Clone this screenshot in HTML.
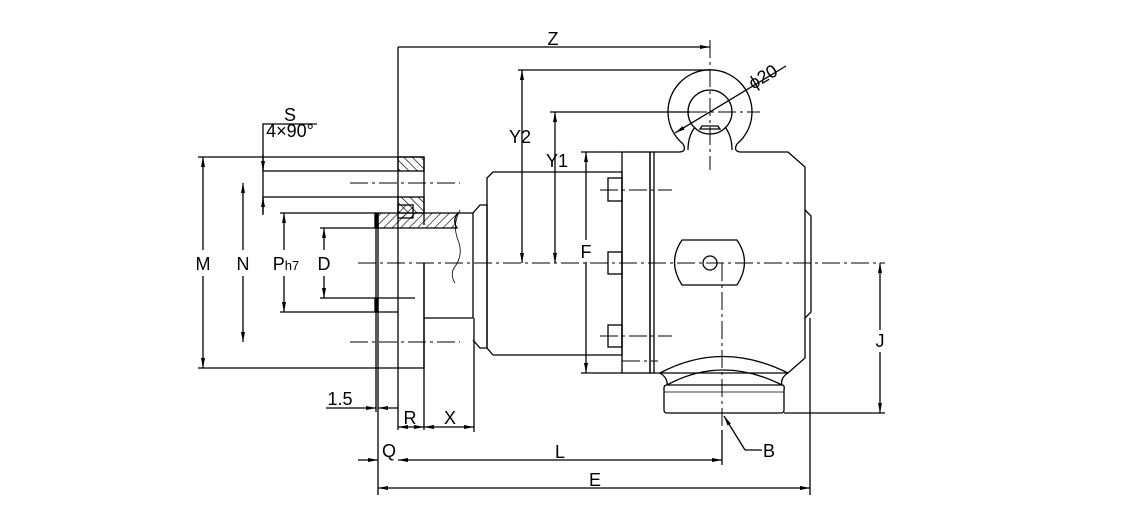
<!DOCTYPE html>
<html><head><meta charset="utf-8"><style>
html,body{margin:0;padding:0;background:#fff;}
svg{display:block;}
text{font-family:"Liberation Sans",sans-serif;font-size:18px;fill:#000;}
</style></head><body>
<svg width="1139" height="519" viewBox="0 0 1139 519" xmlns="http://www.w3.org/2000/svg">
<defs>
<marker id="a" markerWidth="10" markerHeight="6" refX="10" refY="3" orient="auto-start-reverse" markerUnits="userSpaceOnUse"><path d="M0,1 L10,3 L0,5 z" fill="#000"/></marker>
<pattern id="h" width="6" height="6" patternUnits="userSpaceOnUse" patternTransform="rotate(45)"><line x1="0" y1="0" x2="0" y2="6" stroke="#000" stroke-width="1.3"/></pattern>
<pattern id="h2" width="6" height="6" patternUnits="userSpaceOnUse" patternTransform="rotate(-45)"><line x1="0" y1="0" x2="0" y2="6" stroke="#000" stroke-width="1.3"/></pattern>
</defs>
<g fill="none" stroke="#000" stroke-width="1.3">
<g stroke-dasharray="18,4,3,4" stroke-width="1">
<line x1="358" y1="263" x2="885" y2="263"/>
<line x1="350" y1="183" x2="460" y2="183"/>
<line x1="350" y1="342" x2="460" y2="342"/>
<line x1="710" y1="40" x2="710" y2="170"/>
<line x1="660" y1="112" x2="760" y2="112"/>
<line x1="722" y1="263" x2="722" y2="430"/>
<line x1="600" y1="190" x2="672" y2="190"/>
<line x1="600" y1="336" x2="672" y2="336"/>
<line x1="622" y1="361" x2="658" y2="361"/>
</g>
<path d="M460,210 Q452,225 458,240 Q464,255 454,268 Q450,275 455,283" stroke-width="0.8"/>
<path d="M198,157 H424 V225 M198,368 H424 V263"/>
<line x1="398" y1="47" x2="398" y2="430"/>
<line x1="424" y1="263" x2="424" y2="430"/>
<line x1="263" y1="171" x2="398" y2="171"/>
<line x1="263" y1="197" x2="398" y2="197"/>
<rect x="398" y="157" width="26" height="14" fill="url(#h2)"/>
<rect x="398" y="197" width="26" height="16" fill="url(#h2)"/>
<path d="M378,213 H458 Q452,220 457,228 H378 Z" fill="url(#h)"/>
<rect x="398" y="205" width="15" height="13" fill="url(#h)"/>
<line x1="376" y1="213" x2="376" y2="412"/>
<line x1="378" y1="213" x2="378" y2="495"/>
<rect x="375" y="213" width="3" height="15" fill="#000"/>
<rect x="375" y="298" width="3" height="14" fill="#000"/>
<path d="M280,213 H376 M320,228 H378 M320,298 H415 M280,312 H398 M424,318 H473"/>
<path d="M458,213 H473 V318 M473,213 L480,205 H487 V348 H480 L473,340"/>
<path d="M487,178 L493,172 H622 V355 H493 L487,348 Z"/>
<rect x="608" y="178" width="14" height="23"/>
<rect x="608" y="252" width="14" height="22"/>
<rect x="608" y="325" width="14" height="22"/>
<rect x="622" y="152" width="28" height="221"/>
<rect x="650" y="152" width="4" height="221"/>
<path d="M654,152 H680 M740,152 H788 L805,167 V358 L788,373 H654"/>
<path d="M805,210 L811,216 V312 L805,318"/>
<path d="M683,144 A42,42 0 1 1 737,144"/>
<circle cx="710" cy="112" r="22"/>
<path d="M683,144 Q687,151 680,152 M737,144 Q733,151 740,152"/>
<path d="M695,127 Q688,136 688,150 M725,127 Q732,136 732,150"/>
<path d="M700,129 H720 L718,126 H702 Z"/>
<path d="M682,240 H737 Q752,262 737,285 H682 Q667,262 682,240 Z"/>
<circle cx="710" cy="263" r="7"/>
<path d="M660,373 Q722,340 788,373 M667,385 Q722,355 782,385 M660,373 Q668,378 667,385 M788,373 Q780,378 782,385"/>
<path d="M664,388 Q664,385 667,385 H782 Q785,385 784,390 V410 Q784,413 781,413 H667 Q664,413 664,410 Z"/>
<line x1="664" y1="392" x2="784" y2="392" stroke-width="0.8"/>
<line x1="784" y1="413" x2="885" y2="413"/>
<line x1="810" y1="318" x2="810" y2="495"/>
<line x1="722" y1="430" x2="722" y2="465"/>
<line x1="474" y1="318" x2="474" y2="432"/>
<line x1="398" y1="47" x2="710" y2="47" marker-end="url(#a)"/>
<line x1="518" y1="70" x2="710" y2="70"/>
<line x1="522" y1="70" x2="522" y2="263" marker-start="url(#a)" marker-end="url(#a)"/>
<line x1="550" y1="112" x2="690" y2="112"/>
<line x1="555" y1="112" x2="555" y2="263" marker-start="url(#a)" marker-end="url(#a)"/>
<line x1="581" y1="152" x2="622" y2="152"/>
<line x1="581" y1="373" x2="622" y2="373"/>
<line x1="586" y1="152" x2="586" y2="240" marker-start="url(#a)"/>
<line x1="586" y1="262" x2="586" y2="373" marker-end="url(#a)"/>
<line x1="675" y1="133" x2="786" y2="66" marker-start="url(#a)"/>
<line x1="203" y1="157" x2="203" y2="250" marker-start="url(#a)"/>
<line x1="203" y1="276" x2="203" y2="368" marker-end="url(#a)"/>
<line x1="243" y1="183" x2="243" y2="250" marker-start="url(#a)"/>
<line x1="243" y1="276" x2="243" y2="342" marker-end="url(#a)"/>
<line x1="284" y1="213" x2="284" y2="250" marker-start="url(#a)"/>
<line x1="284" y1="276" x2="284" y2="312" marker-end="url(#a)"/>
<line x1="324" y1="228" x2="324" y2="250" marker-start="url(#a)"/>
<line x1="324" y1="276" x2="324" y2="298" marker-end="url(#a)"/>
<path d="M263,215 V124 H317"/>
<line x1="263" y1="155" x2="263" y2="171" marker-end="url(#a)"/>
<line x1="263" y1="213" x2="263" y2="197" marker-end="url(#a)"/>
<line x1="326" y1="408" x2="376" y2="408" marker-end="url(#a)"/>
<line x1="398" y1="408" x2="378" y2="408" marker-end="url(#a)"/>
<line x1="398" y1="427" x2="424" y2="427" marker-start="url(#a)" marker-end="url(#a)"/>
<line x1="424" y1="427" x2="474" y2="427" marker-start="url(#a)" marker-end="url(#a)"/>
<line x1="358" y1="460" x2="378" y2="460" marker-end="url(#a)"/>
<line x1="398" y1="460" x2="722" y2="460" marker-start="url(#a)" marker-end="url(#a)"/>
<line x1="378" y1="488" x2="810" y2="488" marker-start="url(#a)" marker-end="url(#a)"/>
<line x1="880" y1="263" x2="880" y2="330" marker-start="url(#a)"/>
<line x1="880" y1="352" x2="880" y2="413" marker-end="url(#a)"/>
<path d="M745,450 L724,416" marker-end="url(#a)"/>
<line x1="745" y1="450" x2="762" y2="450"/>
</g>
<g text-anchor="middle">
<text x="553" y="45">Z</text>
<text x="520" y="143">Y2</text>
<text x="557" y="167">Y1</text>
<text x="586" y="258">F</text>
<text x="203" y="270">M</text>
<text x="243" y="270">N</text>
<text x="286" y="270">P<tspan font-size="13">h7</tspan></text>
<text x="324" y="270">D</text>
<text x="290" y="121">S</text>
<text x="290" y="137" font-size="14">4×90°</text>
<text x="340" y="405">1.5</text>
<text x="410" y="424">R</text>
<text x="450" y="424">X</text>
<text x="389" y="457">Q</text>
<text x="560" y="458">L</text>
<text x="595" y="486">E</text>
<text x="880" y="347">J</text>
<text x="769" y="457">B</text>
<text x="0" y="0" transform="translate(766,82) rotate(-31)">ϕ20</text>
</g>
</svg>
</body></html>
